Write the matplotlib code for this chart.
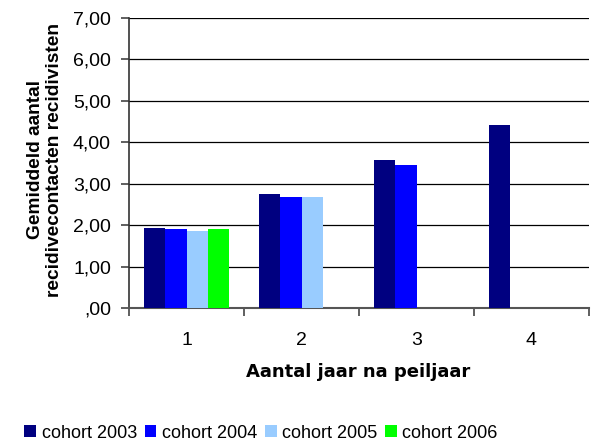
import matplotlib
matplotlib.use("Agg")
import matplotlib.pyplot as plt
from matplotlib.patches import Patch
from matplotlib.ticker import FuncFormatter, FixedLocator
import numpy as np

plt.rcParams['font.family'] = ['Liberation Sans', 'DejaVu Sans']

categories = ["1", "2", "3", "4"]
series_names = ["cohort 2003", "cohort 2004", "cohort 2005", "cohort 2006"]
cohort_2003 = [1.93, 2.75, 3.57, 4.42]
cohort_2004 = [1.90, 2.68, 3.45, None]
cohort_2005 = [1.86, 2.68, None, None]
cohort_2006 = [1.90, None, None, None]
series_values = [cohort_2003, cohort_2004, cohort_2005, cohort_2006]
colors = ["#000080", "#0000FF", "#99CCFF", "#00FF00"]

fig = plt.figure(figsize=(5.94, 4.46), dpi=100)
ax = fig.add_axes([129/594, 1-308/446, 460/594, 290/446])

w = 0.185
x = np.arange(len(categories))
for j, (vals, c) in enumerate(zip(series_values, colors)):
    xs = [xi + (j - 1.5) * w for xi, v in zip(x, vals) if v is not None]
    vs = [v for v in vals if v is not None]
    ax.bar(xs, vs, width=w, color=c, zorder=3, linewidth=0)

ax.set_xlim(-0.5, len(categories) - 0.5)
ax.set_ylim(0, 7)
ax.set_yticks(np.arange(0, 8, 1))
ax.yaxis.set_major_formatter(FuncFormatter(lambda v, p: (",00" if v == 0 else f"{v:.2f}".replace(".", ","))))
ax.yaxis.grid(True, color="black", linewidth=0.9, zorder=0)
ax.set_axisbelow(True)

ax.set_xticks(x)
ax.set_xticklabels(categories)
ax.xaxis.set_minor_locator(FixedLocator(np.arange(-0.5, len(categories), 1)))
ax.tick_params(axis='x', which='major', length=0, pad=17, labelsize=14)
ax.tick_params(axis='x', which='minor', length=6, direction='out', color='#444444', width=1.2)
ax.tick_params(axis='y', length=6, direction='out', color='#444444', width=1.2, labelsize=14, pad=7)

for s in ["top", "right"]:
    ax.spines[s].set_visible(False)
ax.spines["left"].set_color("#333333")
ax.spines["bottom"].set_color("#555555")
ax.spines["left"].set_linewidth(1.2)
ax.spines["bottom"].set_linewidth(1.5)

fig.text(358/594, 1-372/446, "Aantal jaar na peiljaar", fontsize=13, fontweight="bold",
         family="DejaVu Sans", ha="center", va="center")
fig.text(45/594, 1-160/446, "Gemiddeld aantal\nrecidivecontacten recidivisten", fontsize=13.75,
         fontweight="bold", rotation=90, ha="center", va="center", multialignment="center",
         linespacing=1.1)

handles = [Patch(facecolor=c, edgecolor='none') for c in colors]
fig.legend(handles, series_names, loc="center", bbox_to_anchor=(261/594, 1-433/446), ncol=4,
           frameon=False, fontsize=13, handlelength=0.65, handleheight=0.65,
           handletextpad=0.3, columnspacing=0.43, borderaxespad=0)

fig.savefig("out.png", dpi=100)
